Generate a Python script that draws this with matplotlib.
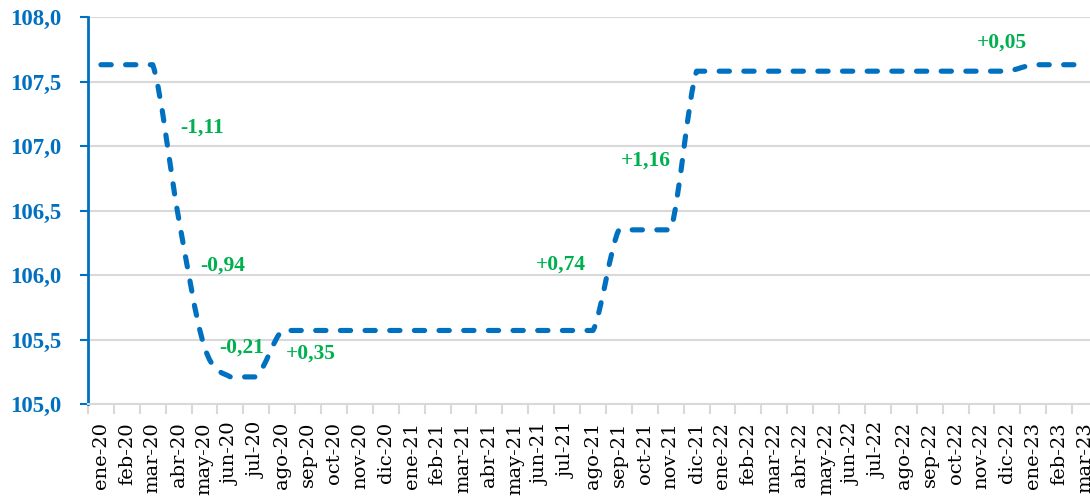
import matplotlib.pyplot as plt
from matplotlib.path import Path
from matplotlib.patches import PathPatch
from matplotlib.ticker import FuncFormatter, FixedLocator
import numpy as np

months = ["ene", "feb", "mar", "abr", "may", "jun", "jul", "ago", "sep", "oct", "nov", "dic"]
labels = [m + "-" + y for y in ["20", "21", "22"] for m in months] + ["ene-23", "feb-23", "mar-23"]

values = [107.63, 107.63, 107.63, 106.44, 105.44, 105.21, 105.21,
          105.57, 105.57, 105.57, 105.57, 105.57, 105.57, 105.57, 105.57,
          105.57, 105.57, 105.57, 105.57, 105.57, 106.35, 106.35, 106.35,
          107.58, 107.58, 107.58, 107.58, 107.58, 107.58, 107.58, 107.58,
          107.58, 107.58, 107.58, 107.58, 107.58, 107.63, 107.63, 107.63]

# variation labels (text, x position in months, y position)
var_text = ["-1,11", "-0,94", "-0,21", "+0,35", "+0,74", "+1,16", "+0,05"]
var_x = [3.9, 4.7, 5.45, 8.1, 17.75, 21.05, 34.8]
var_y = [107.14, 106.07, 105.44, 105.39, 106.08, 106.89, 107.80]

blue = "#0070C0"
green = "#00B050"
grid = "#D9D9D9"

plt.rcParams['font.family'] = ['Liberation Serif', 'DejaVu Serif']

fig = plt.figure(figsize=(10.9, 5.01), dpi=100)
ax = fig.add_axes([88 / 1090, 1 - 404 / 501, 1010 / 1090, 387 / 501])

# smoothed line, bezier segments with clamped control points (no overshoot)
x = np.arange(len(values), dtype=float)
y = np.array(values)
verts = [(x[0], y[0])]
codes = [Path.MOVETO]
n = len(x)
for i in range(n - 1):
    p0 = np.array([x[max(i - 1, 0)], y[max(i - 1, 0)]])
    p1 = np.array([x[i], y[i]])
    p2 = np.array([x[i + 1], y[i + 1]])
    p3 = np.array([x[min(i + 2, n - 1)], y[min(i + 2, n - 1)]])
    c1 = p1 + (p2 - p0) / 6
    c2 = p2 - (p3 - p1) / 6
    lo, hi = min(p1[1], p2[1]), max(p1[1], p2[1])
    c1[1] = np.clip(c1[1], lo, hi)
    c2[1] = np.clip(c2[1], lo, hi)
    verts += [tuple(c1), tuple(c2), tuple(p2)]
    codes += [Path.CURVE4] * 3
patch = PathPatch(Path(verts, codes), fill=False, edgecolor=blue, lw=3.7,
                  linestyle=(0, (2.0, 2.8)), capstyle='round', joinstyle='round', zorder=3)
ax.add_patch(patch)

for t, tx, ty in zip(var_text, var_x, var_y):
    ax.text(tx, ty, t, color=green, fontsize=15.5, fontweight='bold', ha='center', va='center', zorder=4)

ax.set_xlim(-0.5, len(values) - 0.5)
ax.set_ylim(105.0, 108.0)
ax.set_yticks(np.arange(105.0, 108.01, 0.5))
ax.yaxis.set_major_formatter(FuncFormatter(lambda v, p: f"{v:.1f}".replace(".", ",")))
ax.set_xticks(x)
ax.set_xticklabels(labels, rotation=90, fontsize=14, family='DejaVu Serif')
ax.xaxis.set_minor_locator(FixedLocator(np.arange(-0.5, len(values), 1.0)))
ax.tick_params(axis='x', which='major', length=0, pad=13)
ax.tick_params(axis='x', which='minor', length=7, width=1.5, color=grid)
ax.tick_params(axis='y', length=6, width=1.5, color=blue, labelcolor=blue, labelsize=16.5, pad=13)
for lab in ax.get_yticklabels():
    lab.set_fontweight('bold')

ax.grid(axis='y', color=grid, lw=1.5)
ax.set_axisbelow(True)
for s in ['top', 'right']:
    ax.spines[s].set_visible(False)
ax.spines['left'].set_color(blue)
ax.spines['left'].set_linewidth(2)
ax.spines['bottom'].set_color(grid)
ax.spines['bottom'].set_linewidth(1.5)

fig.savefig("out.png", dpi=100)
